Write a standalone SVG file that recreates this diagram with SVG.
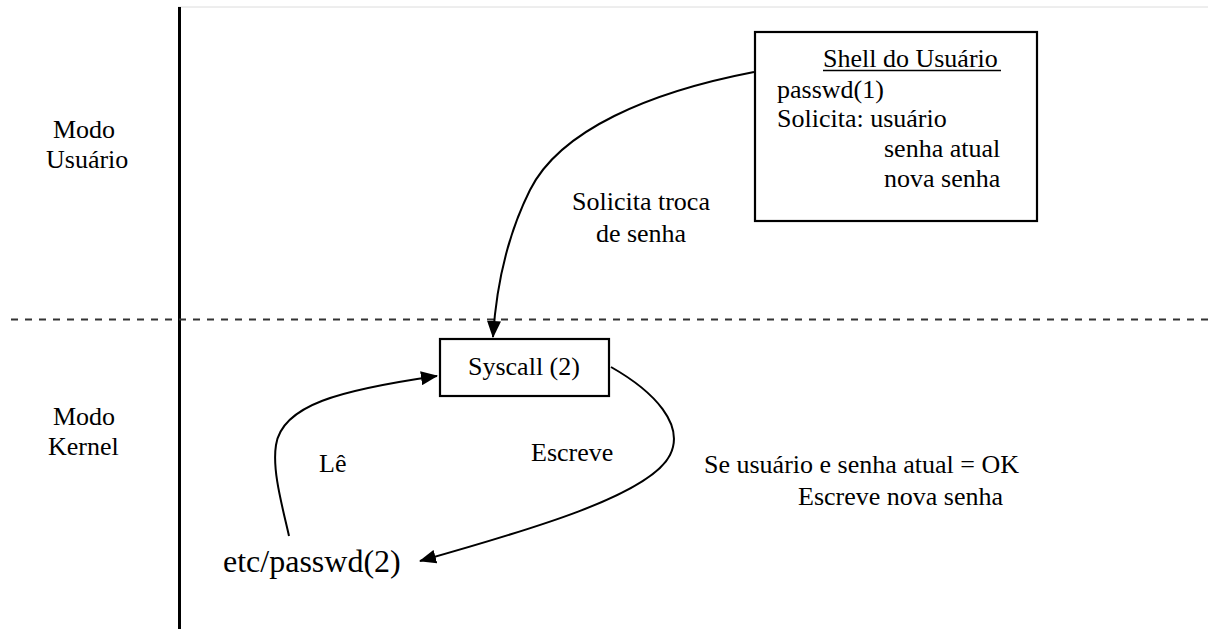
<svg xmlns="http://www.w3.org/2000/svg" width="1208" height="629" viewBox="0 0 1208 629">
<style>
text { font-family: "Liberation Serif", "Times New Roman", Times, serif; font-size: 26px; fill: #000; }
.box { fill: #fff; stroke: #000; stroke-width: 2.2; }
.conn { fill: none; stroke: #000; stroke-width: 2; }
</style>
<defs>
<marker id="arrow" viewBox="0 0 17 14" refX="16" refY="7" markerWidth="17" markerHeight="14" markerUnits="userSpaceOnUse" orient="auto">
<path d="M0,0 L17,7 L0,14 z" fill="#000"/>
</marker>
</defs>
<rect x="0" y="0" width="1208" height="629" fill="#fff"/>
<g id="frame">
<line x1="178" y1="7" x2="1208" y2="7" stroke="#dcdcdc" stroke-width="1"/>
<line x1="179.5" y1="7" x2="179.5" y2="629" stroke="#000" stroke-width="3"/>
<line x1="11" y1="319.5" x2="1208" y2="319.5" stroke="#333" stroke-width="1.8" stroke-dasharray="7 7"/>
</g>
<g id="label-modo-usuario">
<text x="53" y="138">Modo</text>
<text x="46" y="168">Usuário</text>
</g>
<g id="label-modo-kernel">
<text x="53" y="425">Modo</text>
<text x="48" y="455">Kernel</text>
</g>
<g id="shell">
<rect class="box" x="755" y="32" width="282" height="189"/>
<text x="823" y="67">Shell do Usuário</text>
<line x1="823" y1="70.5" x2="1001" y2="70.5" stroke="#000" stroke-width="1.5"/>
<text x="777" y="98">passwd(1)</text>
<text x="777" y="127">Solicita: usuário</text>
<text x="884" y="157">senha atual</text>
<text x="884" y="187">nova senha</text>
</g>
<g id="syscall">
<rect class="box" x="440" y="339" width="169" height="57"/>
<text x="468" y="375">Syscall (2)</text>
</g>
<g id="etc-passwd">
<text x="223" y="572" style="font-size:32px">etc/passwd(2)</text>
</g>
<g id="connectors">
<path class="conn" d="M754,72 C650,92 560,130 530,190 C505,240 496,290 493,337" marker-end="url(#arrow)"/>
<path class="conn" d="M289,536 C282,505 272,470 276,445 C282,405 340,390 437,376" marker-end="url(#arrow)"/>
<path class="conn" d="M611,367 C655,392 685,425 670,455 C650,495 530,530 420,561" marker-end="url(#arrow)"/>
</g>
<g id="labels">
<text x="641" y="210" text-anchor="middle">Solicita troca</text>
<text x="641" y="242" text-anchor="middle">de senha</text>
<text x="319" y="472">Lê</text>
<text x="531" y="461">Escreve</text>
<text x="704" y="473">Se usuário e senha atual = OK</text>
<text x="798" y="505">Escreve nova senha</text>
</g>
</svg>
